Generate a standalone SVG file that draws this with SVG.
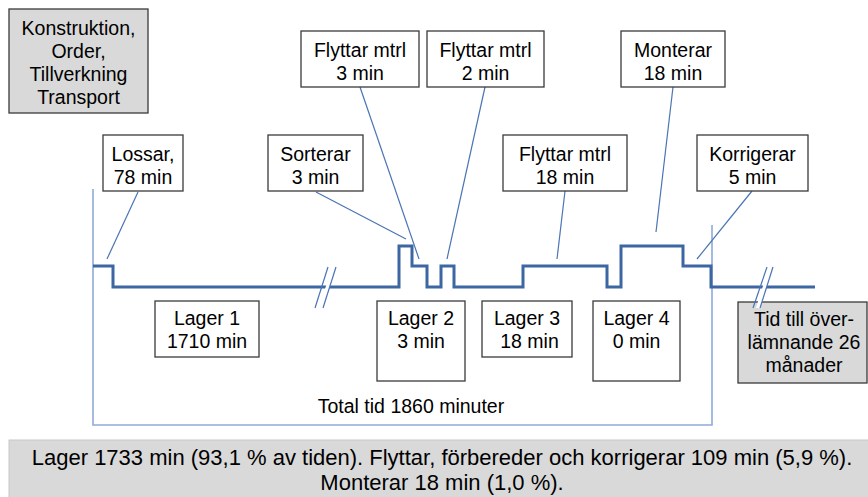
<svg xmlns="http://www.w3.org/2000/svg" width="868" height="497" viewBox="0 0 868 497">
<style>
.box{fill:#ffffff;stroke:#3a3a3a;stroke-width:1.3}
.gbox{fill:#d9d9d9;stroke:#3a3a3a;stroke-width:1.3}
.t{font-family:"Liberation Sans",Arial,sans-serif;font-size:19.5px;fill:#000;text-anchor:middle}
.tb{font-family:"Liberation Sans",Arial,sans-serif;font-size:22px;fill:#000;text-anchor:middle}
.con{stroke:#4a74b4;stroke-width:1.2;fill:none}
.br{stroke:#8eaad8;stroke-width:1.6;fill:none}
.sig{stroke:#3d67a2;stroke-width:3;fill:none;stroke-linejoin:miter}
</style>
<rect width="868" height="497" fill="#ffffff"/>

<g id="bracket">
<path class="br" d="M93,189 V425 H712 V225"/>
</g>

<g id="connectors">
<line class="con" x1="138" y1="192" x2="107" y2="259"/>
<line class="con" x1="316" y1="192" x2="406" y2="239"/>
<line class="con" x1="360" y1="87" x2="419" y2="259"/>
<line class="con" x1="485" y1="87" x2="447" y2="259"/>
<line class="con" x1="565" y1="191" x2="557" y2="259"/>
<line class="con" x1="673" y1="87" x2="656" y2="232"/>
<line class="con" x1="752" y1="191" x2="697" y2="259"/>
</g>

<g id="n-konstruktion">
<rect class="gbox" x="9" y="9" width="139" height="104"/>
<text class="t" x="78.5" y="35">Konstruktion,</text>
<text class="t" x="78.5" y="58">Order,</text>
<text class="t" x="78.5" y="81">Tillverkning</text>
<text class="t" x="78.5" y="104">Transport</text>
</g>

<g id="n-lossar">
<rect class="box" x="103" y="135" width="80" height="56"/>
<text class="t" x="143" y="161">Lossar,</text>
<text class="t" x="143" y="184">78 min</text>
</g>

<g id="n-sorterar">
<rect class="box" x="268" y="135" width="95" height="56"/>
<text class="t" x="315.5" y="161">Sorterar</text>
<text class="t" x="315.5" y="184">3 min</text>
</g>

<g id="n-flyttar3">
<rect class="box" x="301" y="31" width="118" height="56"/>
<text class="t" x="360" y="57">Flyttar mtrl</text>
<text class="t" x="360" y="80">3 min</text>
</g>

<g id="n-flyttar2">
<rect class="box" x="427" y="31" width="117" height="56"/>
<text class="t" x="485.5" y="57">Flyttar mtrl</text>
<text class="t" x="485.5" y="80">2 min</text>
</g>

<g id="n-flyttar18">
<rect class="box" x="503" y="135" width="124" height="56"/>
<text class="t" x="565" y="161">Flyttar mtrl</text>
<text class="t" x="565" y="184">18 min</text>
</g>

<g id="n-monterar">
<rect class="box" x="621" y="31" width="104" height="56"/>
<text class="t" x="673" y="57">Monterar</text>
<text class="t" x="673" y="80">18 min</text>
</g>

<g id="n-korrigerar">
<rect class="box" x="697" y="135" width="111" height="56"/>
<text class="t" x="752.5" y="161">Korrigerar</text>
<text class="t" x="752.5" y="184">5 min</text>
</g>

<g id="n-lager1">
<rect class="box" x="155" y="301" width="104" height="56"/>
<text class="t" x="207" y="325">Lager 1</text>
<text class="t" x="207" y="348">1710 min</text>
</g>

<g id="n-lager2">
<rect class="box" x="377" y="301" width="88" height="80"/>
<text class="t" x="421" y="325">Lager 2</text>
<text class="t" x="421" y="348">3 min</text>
</g>

<g id="n-lager3">
<rect class="box" x="482" y="301" width="90" height="56"/>
<text class="t" x="527" y="325">Lager 3</text>
<text class="t" x="529.5" y="348">18 min</text>
</g>

<g id="n-lager4">
<rect class="box" x="593" y="301" width="87" height="80"/>
<text class="t" x="636.5" y="325">Lager 4</text>
<text class="t" x="636.5" y="348">0 min</text>
</g>

<g id="n-tid">
<rect class="gbox" x="738" y="302" width="129" height="81"/>
<text class="t" x="804" y="326">Tid till över-</text>
<text class="t" x="804" y="349">lämnande 26</text>
<text class="t" x="804" y="372">månader</text>
</g>

<g id="total">
<text class="t" x="411" y="413">Total tid 1860 minuter</text>
</g>

<g id="n-summary">
<rect x="9" y="440" width="870" height="70" fill="#d9d9d9" stroke="#c8c8c8" stroke-width="1"/>
<text class="tb" x="442" y="465">Lager 1733 min (93,1 % av tiden). Flyttar, förbereder och korrigerar 109 min (5,9 %).</text>
<text class="tb" x="442" y="490">Monterar 18 min (1,0 %).</text>
</g>

<g id="signal">
<path class="sig" d="M93,266 H113 V287 H399 V246 H412 V266 H427 V287 H441 V266 H454 V287 H523 V266 H607 V287 H621 V246 H683 V266 H711 V287 H815"/>
<polygon points="319,308 332,267 336,267 323,308" fill="#ffffff"/>
<line class="con" x1="315" y1="308" x2="328" y2="267"/>
<line class="con" x1="323" y1="308" x2="336" y2="267"/>
<polygon points="756,308 769,267 773,267 760,308" fill="#ffffff"/>
<line class="con" x1="753" y1="308" x2="767" y2="267"/>
<line class="con" x1="760" y1="308" x2="773" y2="267"/>
</g>
</svg>
